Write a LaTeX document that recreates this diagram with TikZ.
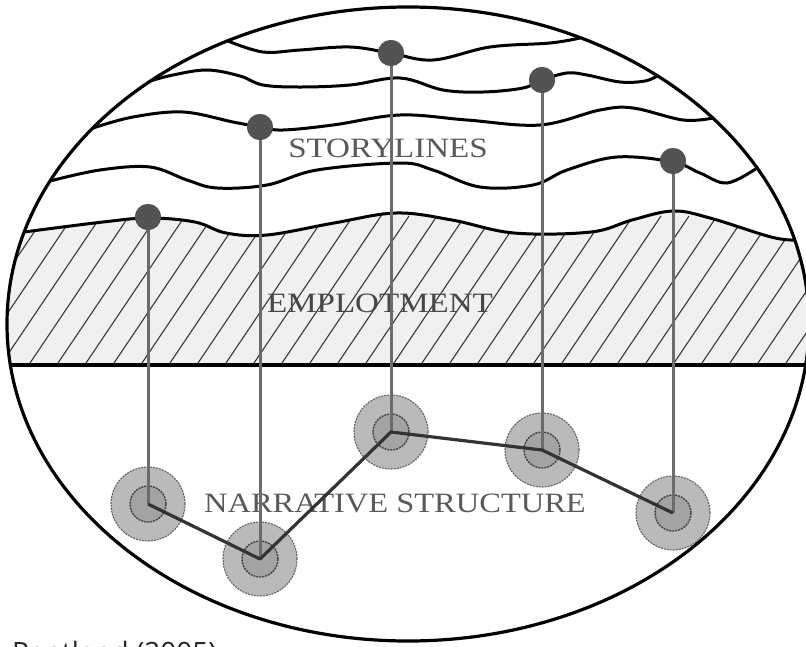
\documentclass[tikz,border=0pt]{standalone}
\usepackage{fontspec}
\setmainfont{Liberation Serif}
\newfontfamily\srcfont{Open Sans}
\begin{document}
\begin{tikzpicture}[x=1pt,y=-1pt,
  story/.style={line width=3pt, black, line join=round, line cap=round},
  rim/.style={line width=3.2pt, black},
  hatchline/.style={line width=1.1pt, black!78},
  vline/.style={line width=3pt, black!58},
  link/.style={line width=3.2pt, black!80},
  dotn/.style={circle, fill=black!68, minimum size=26pt, inner sep=0pt},
  outerc/.style={circle, fill=black!27, draw=black!62, dash pattern=on 2pt off 1pt, line width=1.1pt, minimum size=74pt, inner sep=0pt},
  innerc/.style={circle, fill=black!36, draw=black!75, dash pattern=on 2pt off 1pt, line width=1.4pt, minimum size=36pt, inner sep=0pt},
  txt/.style={text=black!65, font=\fontsize{28}{30}\selectfont, anchor=base, inner sep=0pt}
]
\useasboundingbox (0,0) rectangle (806,646);
\fill[white] (0,0) rectangle (806,646);

% hatched emplotment band
\begin{scope}
  \clip (408,324) ellipse [x radius=401pt, y radius=317pt];
  \clip plot[smooth, tension=0.6] coordinates {(24,232) (103,222) (149,218) (195,222) (226,233) (267,235) (334,223) (396,213) (452,220) (514,233) (591,232) (632,220) (673,211) (710,218) (771,237) (795,240)}
    -- (815,240) -- (815,365) -- (0,365) -- (0,232) -- cycle;
  \fill[black!6] (0,150) rectangle (806,400);
  \foreach \k in {-5,...,30} \draw[hatchline] (\k*28,366) -- ++(101,-150);
\end{scope}

% storylines
\begin{scope}
  \clip (408,324) ellipse [x radius=401pt, y radius=317pt];
  \draw[story] plot[smooth, tension=0.6] coordinates {(228,41) (263,52) (300,50) (350,47) (390,53) (433,60) (490,47) (550,43) (580,38)};
  \draw[story] plot[smooth, tension=0.6] coordinates {(150,81) (173,75) (207,70) (240,76) (263,85) (300,87) (350,85) (400,78) (443,90) (483,92) (523,88) (542,80) (567,73) (587,75) (620,82) (645,81) (657,76)};
  \draw[story] plot[smooth, tension=0.6] coordinates {(93,128) (133,117) (183,112) (233,122) (260,127) (283,130) (333,125) (400,115) (467,120) (540,125) (600,110) (633,108) (683,120) (713,118)};
  \draw[story] plot[smooth, tension=0.6] coordinates {(50,181) (100,170) (150,167) (187,180) (217,188) (267,185) (317,170) (400,163) (433,170) (480,187) (533,185) (567,170) (617,157) (673,162) (700,173) (727,183) (757,168)};
  \draw[story] plot[smooth, tension=0.6] coordinates {(24,232) (103,222) (149,218) (195,222) (226,233) (267,235) (334,223) (396,213) (452,220) (514,233) (591,232) (632,220) (673,211) (710,218) (771,237) (795,240)};
  \draw[rim, line width=3.6pt] (0,365) -- (806,365);
\end{scope}

% outline
\draw[rim] (408,324) ellipse [x radius=401pt, y radius=317pt];

% labels
\node[txt] (story) at (388,157) {\scalebox{1.18}[1]{STORYLINES}};
\node[txt, text=black!72] (emp) at (380,312) {\scalebox{1.18}[1]{EMPLOTMENT}};
\node[txt] (narr) at (395,512) {\scalebox{1.16}[1]{NARRATIVE STRUCTURE}};

% narrative structure circles
\node[outerc] (A) at (148,504) {};
\node[outerc] (B) at (260,559) {};
\node[outerc] (C) at (391,432) {};
\node[outerc] (D) at (542,450) {};
\node[outerc] (E) at (673,513) {};
\node[innerc] (Ai) at (A.center) {};
\node[innerc] (Bi) at (B.center) {};
\node[innerc] (Ci) at (C.center) {};
\node[innerc] (Di) at (D.center) {};
\node[innerc] (Ei) at (E.center) {};

% dots on storylines
\node[dotn] (d1) at (391,53) {};
\node[dotn] (d2) at (542,80) {};
\node[dotn] (d3) at (260,127) {};
\node[dotn] (d4) at (673,161) {};
\node[dotn] (d5) at (148,217) {};

% vertical links
\draw[vline] (d5.center) -- (A.center);
\draw[vline] (d3.center) -- (B.center);
\draw[vline] (d1.center) -- (C.center);
\draw[vline] (d2.center) -- (D.center);
\draw[vline] (d4.center) -- (E.center);

% structure connectors
\draw[link, line join=round] (A.center) -- (B.center) -- (C.center) -- (D.center) -- (E.center);

% redraw dots above lines
\fill[black!68] (d1) circle (13pt) (d2) circle (13pt) (d3) circle (13pt) (d4) circle (13pt) (d5) circle (13pt);

% source (cut off at the bottom, as in the reference)
\node[anchor=base west, inner sep=0pt, font=\srcfont\fontsize{28}{30}\selectfont, text=black!85] (src) at (12,662) {Pentland (2005)};
\end{tikzpicture}
\end{document}
